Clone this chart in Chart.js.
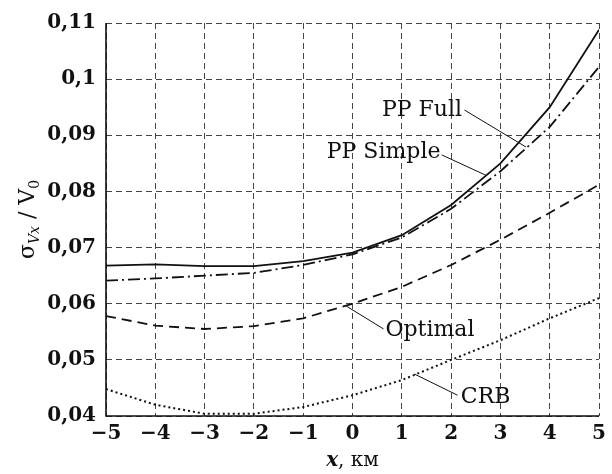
<!DOCTYPE html>
<html>
<head>
<meta charset="utf-8">
<script src="https://cdn.jsdelivr.net/npm/chart.js@4.4.1/dist/chart.umd.min.js"></script>
<style>
  html, body { margin: 0; padding: 0; background: #fff; }
  #wrap { width: 612px; height: 474px; }
</style>
</head>
<body>
<div id="wrap"><canvas id="chart" width="612" height="474"></canvas></div>
<script>
// данные
const xValues = [-5, -4, -3, -2, -1, 0, 1, 2, 3, 4, 5];
const ppFull = [0.0668, 0.0670, 0.0667, 0.0667, 0.0676, 0.0691, 0.0722, 0.0776, 0.0850, 0.0950, 0.1088];
const ppSimple = [0.0641, 0.0645, 0.0650, 0.0655, 0.0669, 0.0688, 0.0718, 0.0769, 0.0836, 0.0915, 0.1022];
const optimal = [0.0578, 0.0561, 0.0555, 0.0560, 0.0574, 0.0600, 0.0630, 0.0669, 0.0714, 0.0762, 0.0812];
const crb = [0.0448, 0.0420, 0.0404, 0.0404, 0.0416, 0.0437, 0.0464, 0.0500, 0.0535, 0.0574, 0.0610];
const xTickLabels = ['\u22125', '\u22124', '\u22123', '\u22122', '\u22121', '0', '1', '2', '3', '4', '5'];
const yTickLabels = ['0,04', '0,05', '0,06', '0,07', '0,08', '0,09', '0,1', '0,11'];

// подписи кривых: текст, центр текста, выноска (в координатах данных)
const callouts = [
    { text: 'PP Full', x: 1.41, y: 0.0945, from: [2.27, 0.0945], to: [3.52, 0.0879] },
    { text: 'PP Simple', x: 0.63, y: 0.0870, from: [1.81, 0.0865], to: [2.70, 0.0829] },
    { text: 'Optimal', x: 1.57, y: 0.0553, from: [0.63, 0.0555], to: [-0.13, 0.0596] },
    { text: 'CRB', x: 2.70, y: 0.0434, from: [2.13, 0.0437], to: [1.25, 0.0475] }
];

const serif = '"DejaVu Serif", "Liberation Serif", serif';

function toPoints(values) {
    return xValues.map((x, i) => ({ x: x, y: values[i] }));
}

// сплошные оси слева и снизу
const axesPlugin = {
    id: 'axesLines',
    beforeDatasetsDraw(chart) {
        const { ctx, chartArea: a } = chart;
        ctx.save();
        ctx.setLineDash([]);
        ctx.strokeStyle = '#111';
        ctx.lineWidth = 1.6;
        ctx.beginPath();
        ctx.moveTo(a.left, a.top);
        ctx.lineTo(a.left, a.bottom);
        ctx.lineTo(a.right, a.bottom);
        ctx.stroke();
        ctx.restore();
    }
};

const calloutPlugin = {
    id: 'callouts',
    afterDatasetsDraw(chart) {
        const { ctx, scales } = chart;
        const sx = scales.x, sy = scales.y;
        ctx.save();
        ctx.fillStyle = '#111';
        ctx.strokeStyle = '#111';
        ctx.lineWidth = 1;
        ctx.font = '22px ' + serif;
        ctx.textAlign = 'center';
        ctx.textBaseline = 'middle';
        callouts.forEach(c => {
            ctx.beginPath();
            ctx.moveTo(sx.getPixelForValue(c.from[0]), sy.getPixelForValue(c.from[1]));
            ctx.lineTo(sx.getPixelForValue(c.to[0]), sy.getPixelForValue(c.to[1]));
            ctx.stroke();
            const tx = sx.getPixelForValue(c.x), ty = sy.getPixelForValue(c.y);
            ctx.fillText(c.text, tx, ty);
        });
        ctx.restore();
    }
};

const titlesPlugin = {
    id: 'titles',
    afterDraw(chart) {
        const { ctx, chartArea } = chart;
        ctx.save();
        ctx.fillStyle = '#111';
        ctx.textBaseline = 'alphabetic';

        // подпись оси Y: σVx / V0
        ctx.translate(34, (chartArea.top + chartArea.bottom) / 2);
        ctx.rotate(-Math.PI / 2);
        const parts = [
            { t: '\u03c3', f: '22px ' + serif, dy: 0 },
            { t: 'V', f: 'italic 14px ' + serif, dy: 5 },
            { t: 'x', f: 'italic 14px ' + serif, dy: 5 },
            { t: ' / ', f: '22px ' + serif, dy: 0 },
            { t: 'V', f: '22px ' + serif, dy: 0 },
            { t: '0', f: '14px ' + serif, dy: 5 }
        ];
        let total = 0;
        parts.forEach(p => { ctx.font = p.f; total += ctx.measureText(p.t).width; });
        let cx = -total / 2;
        parts.forEach(p => {
            ctx.font = p.f;
            ctx.fillText(p.t, cx, p.dy);
            cx += ctx.measureText(p.t).width;
        });
        ctx.restore();

        // подпись оси X: x, км
        ctx.save();
        ctx.fillStyle = '#111';
        ctx.textBaseline = 'alphabetic';
        const xc = chart.scales.x.getPixelForValue(0);
        ctx.font = 'italic bold 20px ' + serif;
        const w1 = ctx.measureText('x').width;
        ctx.font = '20px ' + serif;
        const w2 = ctx.measureText(', км').width;
        let px = xc - (w1 + w2) / 2;
        ctx.font = 'italic bold 20px ' + serif;
        ctx.fillText('x', px, 466);
        ctx.font = '20px ' + serif;
        ctx.fillText(', км', px + w1, 466);
        ctx.restore();
    }
};

new Chart(document.getElementById('chart'), {
    type: 'line',
    data: {
        datasets: [
            { label: 'PP Full', data: toPoints(ppFull), borderColor: '#111', borderWidth: 1.8, borderDash: [] },
            { label: 'PP Simple', data: toPoints(ppSimple), borderColor: '#111', borderWidth: 1.8, borderDash: [12, 4, 2, 4] },
            { label: 'Optimal', data: toPoints(optimal), borderColor: '#111', borderWidth: 1.8, borderDash: [10, 6] },
            { label: 'CRB', data: toPoints(crb), borderColor: '#111', borderWidth: 2, borderDash: [2, 3] }
        ]
    },
    options: {
        responsive: false,
        animation: false,
        events: [],
        layout: { padding: { top: 23, right: 5, left: 0, bottom: 0 } },
        elements: { point: { radius: 0 }, line: { tension: 0, fill: false } },
        plugins: { legend: { display: false }, tooltip: { enabled: false } },
        scales: {
            x: {
                type: 'linear',
                min: -5,
                max: 5,
                afterBuildTicks: axis => { axis.ticks = xValues.map(v => ({ value: v })); },
                afterFit: axis => { axis.height = 58; },
                grid: { color: '#444', lineWidth: 1, drawTicks: false },
                border: { display: false, dash: [6, 4] },
                ticks: {
                    padding: 6,
                    color: '#111',
                    font: { family: serif, size: 20, weight: 'bold' },
                    maxRotation: 0,
                    callback: (v, i) => xTickLabels[i]
                }
            },
            y: {
                type: 'linear',
                min: 0.04,
                max: 0.11,
                afterBuildTicks: axis => { axis.ticks = yTickLabels.map((_, i) => ({ value: 0.04 + i * 0.01 })); },
                afterFit: axis => { axis.width = 106; },
                grid: { color: '#444', lineWidth: 1, drawTicks: false },
                border: { display: false, dash: [6, 4] },
                ticks: {
                    padding: 10,
                    color: '#111',
                    font: { family: serif, size: 20, weight: 'bold' },
                    callback: (v, i) => yTickLabels[i]
                }
            }
        }
    },
    plugins: [axesPlugin, calloutPlugin, titlesPlugin]
});
</script>
</body>
</html>
